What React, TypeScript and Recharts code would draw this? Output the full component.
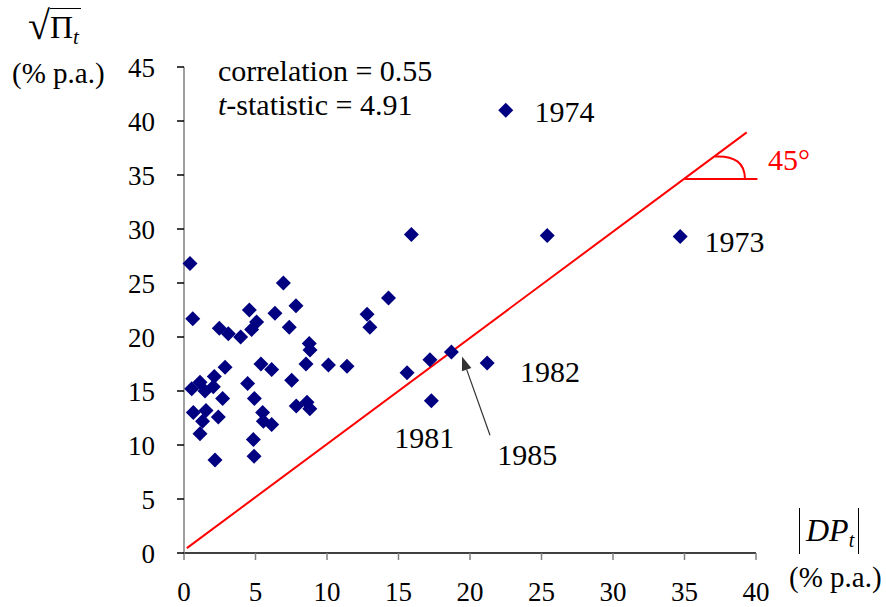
import React from 'react';
import {
  ScatterChart,
  Scatter,
  XAxis,
  YAxis,
  ReferenceLine,
  ReferenceDot,
} from 'recharts';

// |DP_t| (x) and sqrt(Pi_t) (y), % p.a.
const absDP = [
  0.42, 0.61, 6.95, 4.57, 6.36, 7.83, 2.47, 3.1, 3.96, 5.08, 4.73, 7.36, 8.76, 8.81,
  10.1, 11.4, 12.8, 13.0, 14.3, 15.9, 25.4, 34.7, 22.5, 2.87, 5.38, 6.13, 8.53, 7.53,
  4.45, 0.54, 1.12, 2.12, 1.47, 2.05, 2.7, 4.92, 0.65, 1.54, 2.4, 1.3, 5.5, 5.55, 6.13,
  1.12, 4.85, 2.17, 4.9, 7.85, 8.6, 8.8, 15.6, 17.2, 18.7, 21.2, 17.3,
];
const sqrtPi = [
  26.8, 21.7, 25.0, 22.5, 22.2, 22.9, 20.8, 20.3, 20.0, 21.4, 20.7, 20.9, 19.4, 18.8,
  17.4, 17.3, 22.1, 20.9, 23.6, 29.5, 29.4, 29.3, 41.0, 17.2, 17.5, 17.0, 17.5, 16.0,
  15.7, 15.2, 15.8, 16.35, 15.0, 15.4, 14.3, 14.3, 13.0, 13.2, 12.6, 12.2, 13.0, 12.2,
  11.9, 11.05, 10.5, 8.6, 8.95, 13.6, 13.95, 13.35, 16.7, 17.9, 18.6, 17.6, 14.1,
];

const xTicks = [0, 5, 10, 15, 20, 25, 30, 35, 40];
const yTicks = [0, 5, 10, 15, 20, 25, 30, 35, 40, 45];

// year annotations (label centre in data units)
const yearLabels = ['1974', '1973', '1982', '1981', '1985'];
const yearLabelX = [26.6, 38.5, 25.6, 16.8, 24.0];
const yearLabelY = [40.9, 28.8, 16.8, 10.7, 9.1];

// 45 degree line and angle marker
const diagStart = { x: 0.2, y: 0.45 };
const diagEnd = { x: 39.35, y: 38.95 };
const angleVertex = { x: 35.03, y: 34.63 };
const angleEndX = 40.1;

// arrow pointing at 1985
const arrowTail = { x: 21.4, y: 10.9 };
const arrowHead = { x: 19.44, y: 18.2 };

const points = absDP.map((x, i) => ({ x, y: sqrtPi[i] }));

const FONT = '"Liberation Serif", "Times New Roman", serif';
const NAVY = '#000080';
const RED = '#ff0000';

function Diamond(props: any) {
  const { cx, cy } = props;
  const r = 7.5;
  return (
    <path
      d={`M${cx},${cy - r}L${cx + r},${cy}L${cx},${cy + r}L${cx - r},${cy}Z`}
      fill={NAVY}
    />
  );
}

function Arrow(props: any) {
  const { x1, y1, x2, y2 } = props;
  const ang = Math.atan2(y2 - y1, x2 - x1);
  const len = 14;
  const w = 5;
  const bx = x2 - len * Math.cos(ang);
  const by = y2 - len * Math.sin(ang);
  const px = -Math.sin(ang) * w;
  const py = Math.cos(ang) * w;
  return (
    <g>
      <line x1={x1} y1={y1} x2={bx} y2={by} stroke="#333" strokeWidth={1.2} />
      <polygon
        points={`${x2},${y2} ${bx + px},${by + py} ${bx - px},${by - py}`}
        fill="#333"
      />
    </g>
  );
}

function AngleArc(props: any) {
  const { cx, cy } = props;
  return (
    <g>
      <path
        d={`M${cx + 30},${cy - 22.5} Q${cx + 60},${cy - 24} ${cx + 60},${cy}`}
        fill="none"
        stroke={RED}
        strokeWidth={2}
      />
      <text
        x={cx + 104}
        y={cy - 9}
        textAnchor="middle"
        fontFamily={FONT}
        fontSize={30}
        fill={RED}
      >
        45°
      </text>
    </g>
  );
}

function yearText(label: string) {
  return (props: any) => (
    <text
      x={props.cx}
      y={props.cy}
      dy="0.35em"
      textAnchor="middle"
      fontFamily={FONT}
      fontSize={30}
      fill="#000"
    >
      {label}
    </text>
  );
}

const tickStyle = { fontFamily: FONT, fontSize: 27, fill: '#000' };

export default function App() {
  return (
    <div
      style={{
        position: 'absolute',
        left: 0,
        top: 0,
        width: 886,
        height: 607,
        background: '#fff',
        fontFamily: FONT,
        color: '#000',
      }}
    >
      <ScatterChart
        width={886}
        height={607}
        margin={{ top: 67, right: 130, bottom: 0, left: 0 }}
      >
        <XAxis
          type="number"
          dataKey="x"
          domain={[0, 40]}
          ticks={xTicks}
          interval={0}
          height={54}
          tickSize={7}
          tickMargin={22}
          tick={tickStyle}
          axisLine={{ stroke: '#000', strokeWidth: 1.5 }}
          tickLine={{ stroke: '#808080', strokeWidth: 1.5 }}
        />
        <YAxis
          type="number"
          dataKey="y"
          domain={[0, 45]}
          ticks={yTicks}
          interval={0}
          width={184}
          tickSize={7}
          tickMargin={22}
          tick={tickStyle}
          axisLine={{ stroke: '#808080', strokeWidth: 1.5 }}
          tickLine={{ stroke: '#000', strokeWidth: 1.5 }}
        />
        <ReferenceLine
          segment={[diagStart, diagEnd]}
          stroke={RED}
          strokeWidth={2}
          ifOverflow="visible"
        />
        <ReferenceLine
          segment={[angleVertex, { x: angleEndX, y: angleVertex.y }]}
          stroke={RED}
          strokeWidth={2}
          ifOverflow="visible"
        />
        <ReferenceDot
          x={angleVertex.x}
          y={angleVertex.y}
          ifOverflow="visible"
          shape={AngleArc}
        />
        <Scatter data={points} shape={Diamond} isAnimationActive={false} />
        <ReferenceLine
          segment={[arrowTail, arrowHead]}
          ifOverflow="visible"
          shape={Arrow}
        />
        {yearLabels.map((label, i) => (
          <ReferenceDot
            key={label}
            x={yearLabelX[i]}
            y={yearLabelY[i]}
            ifOverflow="visible"
            shape={yearText(label)}
          />
        ))}
      </ScatterChart>

      {/* y axis title: sqrt(Pi_t) */}
      <div style={{ position: 'absolute', left: 28, top: 4, height: 46, whiteSpace: 'nowrap', display: 'flex', alignItems: 'flex-start' }}>
        <span style={{ fontSize: 40, lineHeight: '44px' }}>√</span>
        <span
          style={{
            display: 'inline-block',
            marginTop: 4,
            borderTop: '1.5px solid #000',
            fontSize: 32,
            lineHeight: '36px',
            paddingRight: 2,
          }}
        >
          Π<i style={{ fontSize: 21, verticalAlign: -6 }}>t</i>
        </span>
      </div>
      <div style={{ position: 'absolute', left: 12, top: 57, fontSize: 29, whiteSpace: 'nowrap' }}>
        (% p.a.)
      </div>

      {/* stats */}
      <div style={{ position: 'absolute', left: 218, top: 54, fontSize: 30, lineHeight: '34px', whiteSpace: 'nowrap' }}>
        <div>correlation = 0.55</div>
        <div>
          <i>t</i>-statistic = 4.91
        </div>
      </div>

      {/* x axis title: |DP_t| */}
      <div
        style={{
          position: 'absolute',
          left: 799,
          top: 508,
          height: 46,
          borderLeft: '1.5px solid #000',
          borderRight: '1.5px solid #000',
          padding: '0 4px 0 6px',
          fontSize: 32,
          lineHeight: '44px',
          whiteSpace: 'nowrap',
        }}
      >
        <i>DP</i>
        <i style={{ fontSize: 20, verticalAlign: -6 }}>t</i>
      </div>
      <div style={{ position: 'absolute', left: 789, top: 561, fontSize: 29, whiteSpace: 'nowrap' }}>
        (% p.a.)
      </div>
    </div>
  );
}
